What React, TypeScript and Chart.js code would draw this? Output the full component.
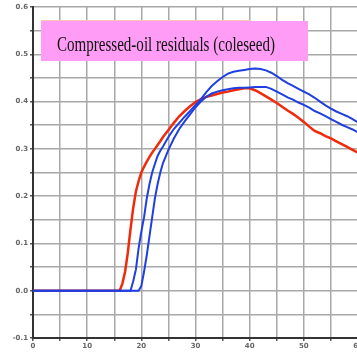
import React, { useEffect, useRef } from "react";
import { Chart, registerables } from "chart.js";

Chart.register(...registerables);

// Time axis samples (shared by all three curves)
const xValues = [
  0, 10, 15, 16, 16.5, 17, 17.5, 18, 18.5, 19, 19.5, 20, 20.5, 21, 21.5, 22, 22.5, 23, 23.5, 24,
  25, 26, 27, 28, 29, 30, 31, 32, 33, 34, 35, 36, 37, 38, 39, 40, 41, 42, 43, 44, 45, 46, 47,
  48, 49, 50, 51, 52, 53, 54, 55, 56, 57, 58, 59, 60,
];

// Red curve
const redValues = [
  0, 0, 0, 0, 0.015, 0.04, 0.08, 0.13, 0.175, 0.21, 0.232, 0.25, 0.262, 0.273, 0.283, 0.292, 0.3, 0.308, 0.316, 0.325,
  0.34, 0.355, 0.369, 0.38, 0.39, 0.399, 0.405, 0.41, 0.413, 0.416, 0.419, 0.421, 0.424, 0.426, 0.428, 0.428, 0.424, 0.418, 0.411,
  0.404, 0.397, 0.389, 0.381, 0.374, 0.366, 0.357, 0.347, 0.338, 0.333, 0.327, 0.322, 0.316, 0.31, 0.304, 0.298, 0.292,
];

// Blue curve with the higher peak
const blueHighValues = [
  0, 0, 0, 0, 0, 0, 0, 0, 0.02, 0.045, 0.09, 0.125, 0.155, 0.195, 0.225, 0.25, 0.268, 0.285, 0.296, 0.305,
  0.325, 0.342, 0.355, 0.368, 0.38, 0.393, 0.405, 0.42, 0.433, 0.443, 0.452, 0.459, 0.463, 0.465, 0.467, 0.469, 0.47, 0.469, 0.466,
  0.461, 0.454, 0.446, 0.439, 0.433, 0.427, 0.421, 0.415, 0.408, 0.4, 0.392, 0.385, 0.379, 0.374, 0.369, 0.363, 0.356,
];

// Blue curve with the lower peak
const blueLowValues = [
  0, 0, 0, 0, 0, 0, 0, 0, 0, 0, 0, 0.01, 0.04, 0.075, 0.115, 0.155, 0.195, 0.225, 0.25, 0.27,
  0.298, 0.322, 0.342, 0.358, 0.373, 0.388, 0.4, 0.41, 0.417, 0.421, 0.424, 0.426, 0.428, 0.429, 0.429, 0.43, 0.431, 0.431, 0.431,
  0.427, 0.421, 0.415, 0.409, 0.404, 0.398, 0.393, 0.387, 0.38, 0.375, 0.369, 0.363, 0.357, 0.351, 0.346, 0.341, 0.335,
];

const titleText = "Compressed-oil residuals (coleseed)";

const toPoints = (ys: number[]) => ys.map((y, i) => ({ x: xValues[i], y }));

const isMajor = (v: number, step: number) => Math.abs(Math.round(v / step) * step - v) < 1e-6;

const formatY = (v: number) => {
  const r = Math.round(v * 10) / 10;
  return (r === 0 ? 0 : r).toFixed(1);
};

const titleBoxPlugin = {
  id: "titleBox",
  afterDraw(chart: Chart) {
    const ctx = chart.ctx;
    ctx.save();
    ctx.fillStyle = "#ffc6b0";
    ctx.fillRect(41, 20, 210, 1.5);
    ctx.fillStyle = "#ff9cf6";
    ctx.fillRect(41, 21, 267, 40);
    ctx.fillStyle = "#111111";
    ctx.font = "22px 'Liberation Serif'";
    ctx.textBaseline = "alphabetic";
    ctx.textAlign = "left";
    ctx.fillText(titleText, 57, 51, 218);
    ctx.restore();
  },
};

export default function App() {
  const canvasRef = useRef<HTMLCanvasElement | null>(null);

  useEffect(() => {
    if (!canvasRef.current) return;
    const chart = new Chart(canvasRef.current, {
      type: "line",
      data: {
        datasets: [
          {
            data: toPoints(blueHighValues),
            borderColor: "#1f3fe0",
            borderWidth: 2,
            pointRadius: 0,
            tension: 0,
            order: 1,
          },
          {
            data: toPoints(blueLowValues),
            borderColor: "#1f3fe0",
            borderWidth: 2,
            pointRadius: 0,
            tension: 0,
            order: 1,
          },
          {
            data: toPoints(redValues),
            borderColor: "#f02a0a",
            borderWidth: 2.5,
            pointRadius: 0,
            tension: 0,
            order: 2,
          },
        ],
      },
      options: {
        animation: false,
        responsive: false,
        maintainAspectRatio: false,
        layout: { padding: { top: 7, right: 22, left: 0, bottom: 0 } },
        plugins: { legend: { display: false }, tooltip: { enabled: false } },
        scales: {
          x: {
            type: "linear",
            min: 0,
            max: 60,
            ticks: {
              stepSize: 5,
              autoSkip: false,
              maxRotation: 0,
              padding: 1,
              color: "#666666",
              font: { family: "DejaVu Sans", size: 7, weight: "bold" },
              callback: (v: any) => (isMajor(Number(v), 10) ? String(Math.round(Number(v))) : ""),
            },
            grid: {
              color: "#a8a8a8",
              lineWidth: 1.5,
              tickLength: 3,
              tickColor: "#555555",
            },
            border: { color: "#333333", width: 2 },
            afterFit: (scale: any) => {
              scale.height = 14;
            },
          },
          y: {
            type: "linear",
            min: -0.1,
            max: 0.6,
            ticks: {
              stepSize: 0.05,
              autoSkip: false,
              padding: 2,
              color: "#666666",
              font: { family: "DejaVu Sans", size: 7, weight: "bold" },
              callback: (v: any) => (isMajor(Number(v), 0.1) ? formatY(Number(v)) : ""),
            },
            grid: {
              color: "#a8a8a8",
              lineWidth: 1.5,
              tickLength: 3,
              tickColor: "#555555",
            },
            border: { color: "#333333", width: 2 },
            afterFit: (scale: any) => {
              scale.width = 33;
            },
          },
        },
      },
      plugins: [titleBoxPlugin],
    });
    return () => chart.destroy();
  }, []);

  return (
    <div
      style={{
        position: "fixed",
        left: 0,
        top: 0,
        width: 357,
        height: 352,
        overflow: "hidden",
        background: "#ffffff",
      }}
    >
      <canvas ref={canvasRef} width={380} height={352} style={{ display: "block" }} />
    </div>
  );
}
